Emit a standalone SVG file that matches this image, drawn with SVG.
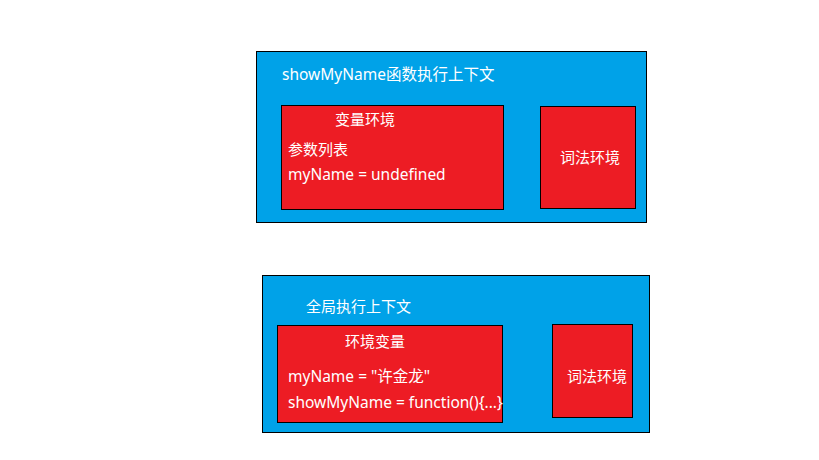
<svg xmlns="http://www.w3.org/2000/svg" width="819" height="460" viewBox="0 0 819 460">
<style>
.outer{fill:#00a2e8;stroke:#000;stroke-width:1}
.inner{fill:#ed1c24;stroke:#000;stroke-width:1}
text{font-family:"Noto Sans","Noto Sans CJK SC",sans-serif;font-size:15px;fill:#fff}
.lat{font-size:15.5px}
</style>
<rect width="819" height="460" fill="#fff"/>
<g id="fn-context">
<rect class="outer" x="256.5" y="51.5" width="390" height="171"/>
<text class="lat" x="282" y="80">showMyName函数执行上下文</text>
</g>
<g id="fn-variable-env">
<rect class="inner" x="281.5" y="105.5" width="222" height="104"/>
<text x="335" y="125">变量环境</text>
<text x="288" y="155">参数列表</text>
<text class="lat" x="288" y="180">myName = undefined</text>
</g>
<g id="fn-lexical-env">
<rect class="inner" x="540.5" y="106.5" width="95" height="102"/>
<text x="560" y="163">词法环境</text>
</g>
<g id="global-context">
<rect class="outer" x="262.5" y="275.5" width="387" height="157"/>
<text x="306" y="312">全局执行上下文</text>
</g>
<g id="global-variable-env">
<rect class="inner" x="277.5" y="325.5" width="225" height="97"/>
<text x="345" y="347">环境变量</text>
<text class="lat" x="288" y="382">myName = "许金龙"</text>
<text class="lat" x="288" y="408">showMyName = function(){...}</text>
</g>
<g id="global-lexical-env">
<rect class="inner" x="552.5" y="324.5" width="80" height="93"/>
<text x="567" y="382">词法环境</text>
</g>
<g id="connectors"></g>
</svg>
